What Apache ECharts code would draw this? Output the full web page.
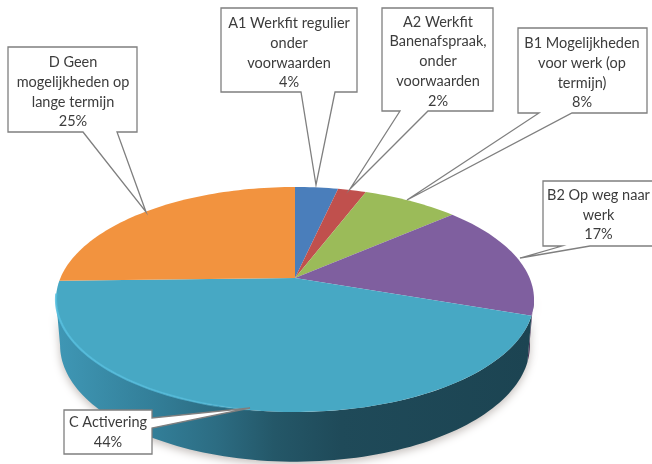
<!DOCTYPE html>
<html>
<head>
<meta charset="utf-8">
<style>html,body{margin:0;padding:0;background:#fff}#c{width:652px;height:464px}</style>
<script src="https://cdn.jsdelivr.net/npm/echarts@6/dist/echarts.min.js"></script>
</head>
<body>
<div id="c"></div>
<script>
var categories = ['A1 Werkfit regulier\nonder\nvoorwaarden', 'A2 Werkfit\nBanenafspraak,\nonder\nvoorwaarden', 'B1 Mogelijkheden\nvoor werk (op\ntermijn)', 'B2 Op weg naar\nwerk', 'C Activering', 'D Geen\nmogelijkheden op\nlange termijn'];
var values = [3.5, 2.3, 7.8, 16.7, 44.3, 25.4];
var colors = ['#4a7ebb', '#c0504d', '#9bbb59', '#7f5f9f', '#47a8c4', '#f2933f'];

// Layout of the 3D disc (perspective projection of a circle)
var CX = 295, CY = 278, KX = 234.6, KY = 108.4, P = 0.191;
var LOW = {cy: 323, sx: 0.983, sy: 1.035};
var WALL_FROM = 99, WALL_TO = 259;
var wallStyles = {
  3: ['#5a4272', '#4a3560'],
  4: ['#3f97b5', '#337f99', '#2c6c82', '#245768', '#1f4a59', '#1c4452']
};
// Callouts: box [x0,y0,x1,y1], pointer [base1, base2, tip], side of the base, text centre
var callouts = [
  {box:[221,8,357,92], base:[[335,92],[301,92]], tip:[316,185], side:'bottom', tx:289, ty:53},
  {box:[382,8,493,111], base:[[428,111],[400,111]], tip:[350,189], side:'bottom', tx:438, ty:61.5},
  {box:[518,28,647,113], base:[[572,113],[539,113]], tip:[407,200], side:'bottom', tx:582, ty:73},
  {box:[543,181,659,246], base:[[590,246],[562,246]], tip:[520,258], side:'bottom', tx:598.5, ty:215},
  {box:[64,410,152,454], base:[[152,418],[152,428]], tip:[250,408], side:'right', tx:108, ty:432.5},
  {box:[8,47,137,132], base:[[117,132],[83,132]], tip:[146,212], side:'bottom', tx:73, ty:92}
];

var total = values.reduce(function (a, b) { return a + b; }, 0);
function startAngle(i) {
  var s = 0;
  for (var j = 0; j < i; j++) s += values[j];
  return s / total * 360;
}
function rim(deg, low) {
  var a = deg * Math.PI / 180, c = Math.sin(a), s = -Math.cos(a), w = 1 - P * s;
  var x = KX * c / w, y = KY * s / w;
  return low ? [CX + x * LOW.sx, LOW.cy + y * LOW.sy] : [CX + x, CY + y];
}
function arc(from, to, low) {
  var pts = [], n = Math.max(2, Math.ceil(Math.abs(to - from) / 1.5));
  for (var i = 0; i <= n; i++) pts.push(rim(from + (to - from) * i / n, low));
  return pts;
}
var data = values.map(function (v) { return [v]; });
function hGrad(stops) {
  return {type: 'linear', x: 57, y: 0, x2: 530, y2: 0, global: true,
    colorStops: stops.map(function (c, i) { return {offset: i / (stops.length - 1), color: c}; })};
}

var option = {
  animation: false,
  backgroundColor: '#ffffff',
  tooltip: {show: false},
  series: [
    {
      type: 'custom', coordinateSystem: 'none', z: 2, silent: true, data: data,
      renderItem: function (params) {
        var i = params.dataIndex;
        var a0 = Math.max(startAngle(i), WALL_FROM), a1 = Math.min(startAngle(i + 1), WALL_TO);
        if (a1 <= a0) return {type: 'group', children: []};
        var pts = arc(a0, a1, false).concat(arc(a1, a0, true));
        var st = wallStyles[i] || [colors[i], colors[i]];
        return {type: 'polygon', shape: {points: pts}, style: {
          fill: i === 4 ? {type: 'linear', x: 57, y: 0, x2: 530, y2: 0, global: true, colorStops: [
            {offset: 0, color: st[0]}, {offset: 0.2, color: st[1]}, {offset: 0.34, color: st[2]},
            {offset: 0.46, color: st[3]}, {offset: 0.6, color: st[4]}, {offset: 1, color: st[5]}
          ]} : hGrad(st),
          shadowColor: 'rgba(60,40,30,0.3)', shadowBlur: 9, shadowOffsetX: 0, shadowOffsetY: 3
        }};
      }
    },
    {
      type: 'custom', coordinateSystem: 'none', z: 3, silent: true, data: data,
      renderItem: function (params) {
        var i = params.dataIndex, a0 = startAngle(i), a1 = startAngle(i + 1);
        var pts = [[CX, CY]].concat(arc(a0, a1, false));
        var children = [{type: 'polygon', shape: {points: pts}, style: {fill: colors[i]}}];
        var b0 = Math.max(a0, 180), b1 = Math.min(a1, 262);
        if (b1 > b0) {
          children.push({type: 'polyline', shape: {points: arc(b0, b1, false)}, style: {
            fill: null, lineWidth: 2.2,
            stroke: {type: 'linear', x: 57, y: 0, x2: 262, y2: 0, global: true, colorStops: [
              {offset: 0, color: 'rgba(85,190,222,0.85)'}, {offset: 0.7, color: 'rgba(85,190,222,0.7)'},
              {offset: 1, color: 'rgba(85,190,222,0)'}
            ]}
          }});
        }
        return {type: 'group', children: children};
      }
    },
    {
      type: 'custom', coordinateSystem: 'none', z: 4, silent: true, data: data,
      renderItem: function (params, api) {
        var i = params.dataIndex, c = callouts[i], b = c.box;
        var pts = [[b[0], b[1]], [b[2], b[1]]];
        if (c.side === 'right') pts = pts.concat([c.base[0], c.tip, c.base[1], [b[2], b[3]], [b[0], b[3]]]);
        else pts = pts.concat([[b[2], b[3]], c.base[0], c.tip, c.base[1], [b[0], b[3]]]);
        return {type: 'group', children: [
          {type: 'polygon', shape: {points: pts}, style: {fill: '#ffffff', stroke: '#7f7f7f', lineWidth: 1.3}},
          {type: 'text', style: {
            x: c.tx, y: c.ty, text: categories[i] + '\n' + Math.round(api.value(0)) + '%',
            align: 'center', verticalAlign: 'middle', fill: '#3c3c3c',
            fontFamily: 'Lato', fontSize: 14.5, lineHeight: 19.7
          }}
        ]};
      }
    }
  ]
};
var chart = echarts.init(document.getElementById('c'), null, {renderer: 'canvas'});
chart.setOption(option);
</script>
</body>
</html>
